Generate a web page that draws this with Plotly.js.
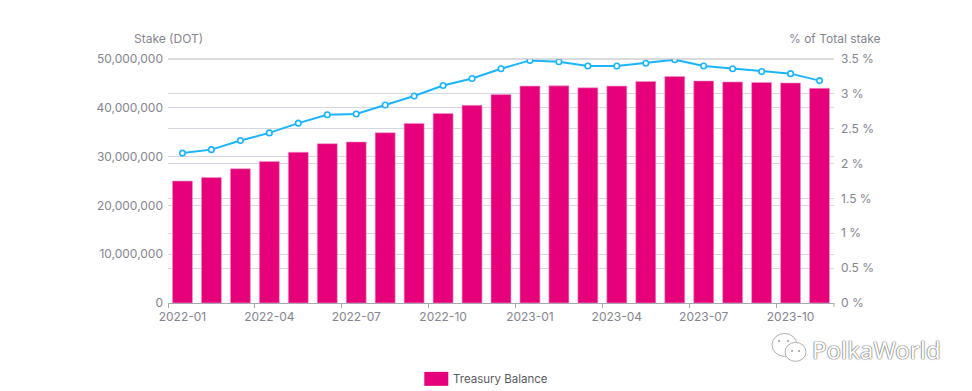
<!DOCTYPE html>
<html>
<head>
<meta charset="utf-8">
<script src="https://cdn.plot.ly/plotly-3.0.1.min.js"></script>
<style>html,body{margin:0;padding:0;background:#fff}#chart{width:972px;height:391px}</style>
</head>
<body>
<div id="chart"></div>
<script>
const months = ["2022-01","2022-02","2022-03","2022-04","2022-05","2022-06","2022-07","2022-08","2022-09","2022-10","2022-11","2022-12","2023-01","2023-02","2023-03","2023-04","2023-05","2023-06","2023-07","2023-08","2023-09","2023-10","2023-11"];
const treasuryBalance = [25000000,25700000,27500000,29000000,30900000,32650000,33000000,34900000,36800000,38850000,40500000,42700000,44450000,44500000,44100000,44450000,45400000,46400000,45500000,45300000,45200000,45100000,44000000];
const pctOfTotalStake = [2.15,2.20,2.33,2.44,2.58,2.70,2.71,2.84,2.97,3.12,3.22,3.36,3.48,3.46,3.40,3.40,3.44,3.49,3.40,3.36,3.32,3.29,3.19];
const leftTicks = [0,10000000,20000000,30000000,40000000,50000000];
const leftTickText = ["0","10,000,000","20,000,000","30,000,000","40,000,000","50,000,000"];
const rightTicks = [0,0.5,1,1.5,2,2.5,3,3.5];
const rightTickText = ["0 %","0.5 %","1 %","1.5 %","2 %","2.5 %","3 %","3.5 %"];
const textColor = "#85858f", font = "Inter, 'Noto Sans', sans-serif";

const L = 167.5, R = 834, T = 58.5, B = 303;
const px = x => (x - L) / (R - L), py = y => (B - y) / (B - T);
function circle(cx, cy, rx, ry, fill, stroke) {
  return {type:"circle", xref:"paper", yref:"paper", x0:px(cx-rx), x1:px(cx+rx), y0:py(cy+ry), y1:py(cy-ry),
    fillcolor:fill, line:{color:stroke, width:stroke === fill ? 0 : 0.8}};
}

const traces = [
  {type:"bar", x:months, y:treasuryBalance, name:"Treasury Balance", marker:{color:"#e6007a", line:{color:"#ee9cc8", width:0.6}}, showlegend:false},
  {type:"scatter", mode:"lines+markers", x:months, y:pctOfTotalStake, yaxis:"y2", name:"% of Total stake",
   line:{color:"#1ab4ff", width:2}, marker:{symbol:"circle", size:5.5, color:"#ffffff", line:{color:"#1ab4ff", width:1.6}}, showlegend:false}
];
const layout = {
  width:972, height:391, paper_bgcolor:"#fff", plot_bgcolor:"#fff",
  margin:{l:L, r:972-R, t:T, b:391-B, pad:0},
  bargap:0.31, showlegend:false,
  font:{family:font, size:12, color:textColor},
  xaxis:{type:"category", categoryorder:"array", categoryarray:months, range:[-0.5,22.5], tickson:"boundaries", dtick:3, tick0:0,
    ticks:"outside", ticklen:4, tickcolor:"#a8a8b0", tickwidth:1, showline:true, linecolor:"#a8a8b0", linewidth:1.2,
    showgrid:false, zeroline:false, tickfont:{family:font,size:12,color:textColor}, tickangle:0, ticklabelstandoff:2},
  yaxis:{range:[0,50000000], tickmode:"array", tickvals:leftTicks, ticktext:leftTickText, showgrid:true, gridcolor:"#d5d7e0", gridwidth:1, zeroline:false,
    ticks:"", showline:false, tickfont:{family:font,size:12,color:textColor}, ticklabelstandoff:4},
  yaxis2:{overlaying:"y", side:"right", range:[0,3.5], tickmode:"array", tickvals:rightTicks, ticktext:rightTickText, showgrid:true, gridcolor:"#d5d7e0", gridwidth:1,
    zeroline:false, ticks:"", showline:false, tickfont:{family:font,size:12,color:textColor}, ticklabelstandoff:6},
  shapes:[
    {type:"line", xref:"paper", yref:"paper", x0:0, x1:1, y0:1, y1:1, line:{color:"#b4b6bf", width:1}},
    {type:"line", xref:"paper", yref:"paper", x0:1, x1:1, y0:0, y1:py(307), line:{color:"#a8a8b0", width:1}},
    {type:"rect", xref:"paper", yref:"paper", x0:px(424), x1:px(448), y0:py(386), y1:py(372), fillcolor:"#e6007a", line:{width:0}},
    circle(784.5,345,12.5,11.5,"#ffffff","#9a9aa0"),
    circle(795.5,352,10.5,9.5,"#ffffff","#9a9aa0"),
    circle(779,341,1,1,"#9a9aa0","#9a9aa0"),
    circle(788,341,1,1,"#9a9aa0","#9a9aa0"),
    circle(792,351,1,1,"#9a9aa0","#9a9aa0"),
    circle(799,351,1,1,"#9a9aa0","#9a9aa0")
  ],
  annotations:[
    {xref:"paper", yref:"paper", x:px(131), y:py(38), xanchor:"left", yanchor:"middle", showarrow:false, text:"Stake (DOT)", font:{family:font,size:12,color:textColor}},
    {xref:"paper", yref:"paper", x:px(883), y:py(38), xanchor:"right", yanchor:"middle", showarrow:false, text:"% of Total stake", font:{family:font,size:12,color:textColor}},
    {xref:"paper", yref:"paper", x:px(451), y:py(379), xanchor:"left", yanchor:"middle", showarrow:false, text:"Treasury Balance", font:{family:font,size:11.5,color:"#5a5a64"}},
    {xref:"paper", yref:"paper", x:px(809.5), y:py(350), xanchor:"left", yanchor:"middle", showarrow:false, text:"PolkaWorld",
     font:{family:"'Noto Sans', sans-serif",size:24,color:"#ffffff",shadow:"0 0 1.2px #666, 0 0 1.2px #666, 0 0 1px #888"}}
  ]
};
Plotly.newPlot("chart", traces, layout, {displayModeBar:false, staticPlot:true});
</script>
</body>
</html>
